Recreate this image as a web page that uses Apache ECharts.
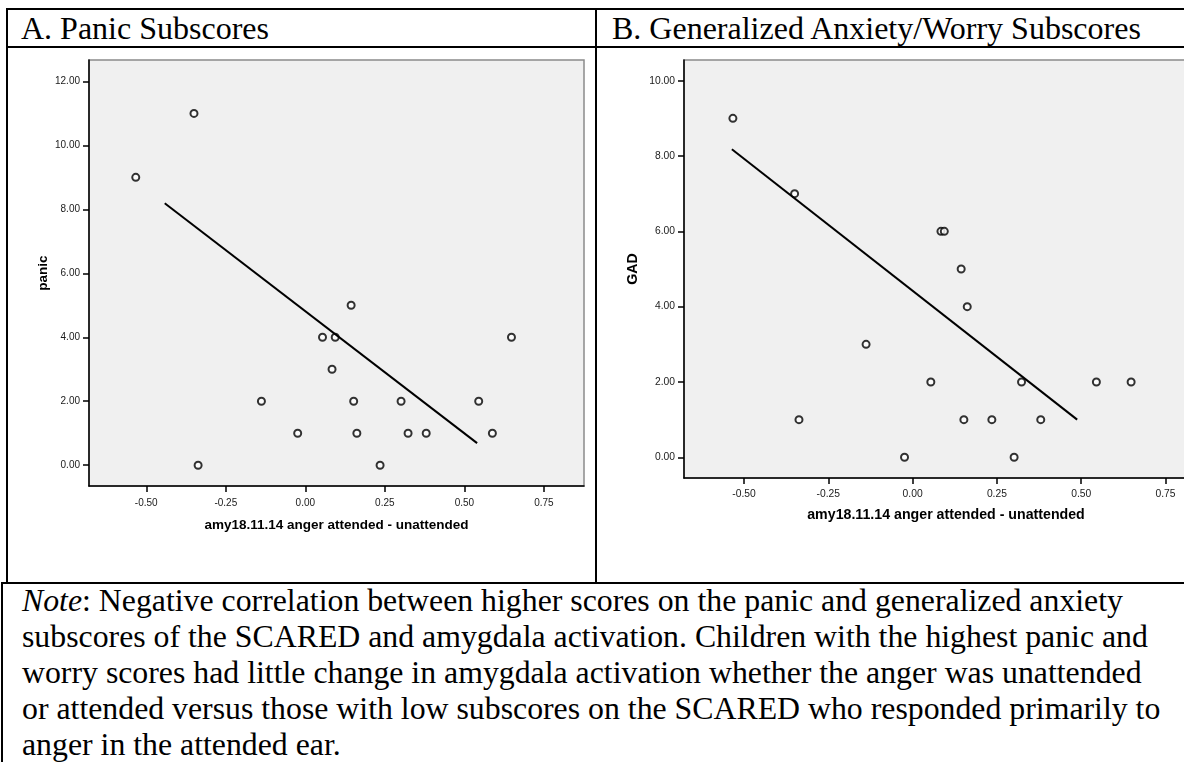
<!DOCTYPE html>
<html>
<head>
<meta charset="utf-8">
<script src="https://cdn.jsdelivr.net/npm/echarts@6/dist/echarts.min.js"></script>
<style>
  html, body { margin: 0; padding: 0; background: #fff; overflow: hidden; }
  body { width: 1184px; height: 762px; position: relative; font-family: "Liberation Serif", "Times New Roman", serif; color: #000; }
  .rule { position: absolute; background: #000; }
  .head { position: absolute; top: 10px; font-size: 32px; line-height: 36px; white-space: nowrap; }
  .note { position: absolute; left: 22px; top: 583px; font-size: 31.8px; line-height: 36px; white-space: nowrap; }
  #chart { position: absolute; left: 0; top: 0; width: 1184px; height: 762px; }
</style>
</head>
<body>
<!-- table frame -->
<div class="rule" style="left:6px; top:8px; width:1190px; height:2px;"></div>
<div class="rule" style="left:6px; top:46px; width:1190px; height:2px;"></div>
<div class="rule" style="left:6px; top:8px; width:2px; height:576px;"></div>
<div class="rule" style="left:595px; top:8px; width:2px; height:576px;"></div>
<div class="rule" style="left:1px; top:582px; width:1190px; height:2px;"></div>
<div class="rule" style="left:1px; top:582px; width:2px; height:190px;"></div>

<div class="head" style="left:21px;">A. Panic Subscores</div>
<div class="head" style="left:612px;">B. Generalized Anxiety/Worry Subscores</div>

<div class="note"><i>Note</i>: Negative correlation between higher scores on the panic and generalized anxiety<br>subscores of the SCARED and amygdala activation. Children with the highest panic and<br>worry scores had little change in amygdala activation whether the anger was unattended<br>or attended versus those with low subscores on the SCARED who responded primarily to<br>anger in the attended ear.</div>

<div id="chart"></div>

<script>
// amygdala change (anger attended - unattended), one value per child
const subjectX = [-0.533, -0.350, -0.337, -0.138, -0.024, 0.054, 0.084, 0.094, 0.144,
                  0.152, 0.162, 0.235, 0.301, 0.323, 0.380, 0.545, 0.588, 0.648];
const panicScores = [9, 11, 0, 2, 1, 4, 3, 4, 5, 2, 1, 0, 2, 1, 1, 2, 1, 4];
const gadScores = [9, 7, 1, 3, 0, 2, 6, 6, 5, 1, 4, 1, 0, 2, 1, 2, null, 2];

// fit line end points as drawn
const panicFitX = [-0.442, 0.540];
const panicFitY = [8.19, 0.69];
const gadFitX = [-0.536, 0.488];
const gadFitY = [8.18, 1.0];

// ticks
const xTicks = [-0.5, -0.25, 0, 0.25, 0.5, 0.75];
const panicTicks = [0, 2, 4, 6, 8, 10, 12];
const gadTicks = [0, 2, 4, 6, 8, 10];

const xName = 'amy18.11.14 anger attended - unattended';

function pairs(xs, ys) {
    const out = [];
    for (let i = 0; i < xs.length; i++) {
        if (ys[i] === null) continue;
        out.push([xs[i], ys[i]]);
    }
    return out;
}

function xAxisFor(idx, min, max, fontSize, nameSize, gap, margin) {
    return {
        type: 'value', gridIndex: idx, min: min, max: max,
        name: xName, nameLocation: 'middle', nameGap: gap,
        nameTextStyle: { fontFamily: 'Liberation Sans', fontWeight: 'bold', fontSize: nameSize, color: '#000' },
        axisLine: { show: true, onZero: false, lineStyle: { color: '#000', width: 1.5 } },
        axisTick: { show: true, customValues: xTicks, length: 6, lineStyle: { color: '#000', width: 1.5 } },
        axisLabel: {
            customValues: xTicks, margin: margin, color: '#1a1a1a',
            fontFamily: 'Liberation Sans', fontSize: fontSize,
            formatter: (v) => v.toFixed(2)
        },
        splitLine: { show: false }
    };
}

function yAxisFor(idx, min, max, ticks, name, fontSize, nameSize, gap) {
    return {
        type: 'value', gridIndex: idx, min: min, max: max,
        name: name, nameLocation: 'middle', nameGap: gap,
        nameTextStyle: { fontFamily: 'Liberation Sans', fontWeight: 'bold', fontSize: nameSize, color: '#000' },
        axisLine: { show: true, onZero: false, lineStyle: { color: '#000', width: 1.5 } },
        axisTick: { show: true, customValues: ticks, length: 6, lineStyle: { color: '#000', width: 1.5 } },
        axisLabel: {
            customValues: ticks, margin: 9, color: '#1a1a1a',
            fontFamily: 'Liberation Sans', fontSize: fontSize,
            formatter: (v) => v.toFixed(2)
        },
        splitLine: { show: false }
    };
}

const pointStyle = { color: '#000', borderColor: '#000', borderWidth: 1 };

const chart = echarts.init(document.getElementById('chart'), null, { renderer: 'canvas' });
chart.setOption({
    animation: false,
    grid: [
        { left: 89, top: 60, width: 495, height: 426, outerBoundsMode: 'none', show: true, backgroundColor: '#f0f0f0', borderColor: '#8a8a8a', borderWidth: 1.5 },
        { left: 684, top: 60, width: 524, height: 418, outerBoundsMode: 'none', show: true, backgroundColor: '#f0f0f0', borderColor: '#8a8a8a', borderWidth: 1.5 }
    ],
    xAxis: [
        xAxisFor(0, -0.68, 0.876, 10, 13.5, 32, 12),
        xAxisFor(1, -0.678, 0.876, 10.3, 14.2, 30, 11)
    ],
    yAxis: [
        yAxisFor(0, -0.65, 12.67, panicTicks, 'panic', 10, 13.5, 39),
        yAxisFor(1, -0.55, 10.55, gadTicks, 'GAD', 10.3, 14.2, 44)
    ],
    series: [
        {
            type: 'scatter', xAxisIndex: 0, yAxisIndex: 0,
            symbol: 'emptyCircle', symbolSize: 7, itemStyle: pointStyle,
            data: pairs(subjectX, panicScores)
        },
        {
            type: 'line', xAxisIndex: 0, yAxisIndex: 0, symbol: 'none',
            lineStyle: { color: '#000', width: 2 },
            data: pairs(panicFitX, panicFitY)
        },
        {
            type: 'scatter', xAxisIndex: 1, yAxisIndex: 1,
            symbol: 'emptyCircle', symbolSize: 7, itemStyle: pointStyle,
            data: pairs(subjectX, gadScores)
        },
        {
            type: 'line', xAxisIndex: 1, yAxisIndex: 1, symbol: 'none',
            lineStyle: { color: '#000', width: 2 },
            data: pairs(gadFitX, gadFitY)
        }
    ]
});
</script>
</body>
</html>
